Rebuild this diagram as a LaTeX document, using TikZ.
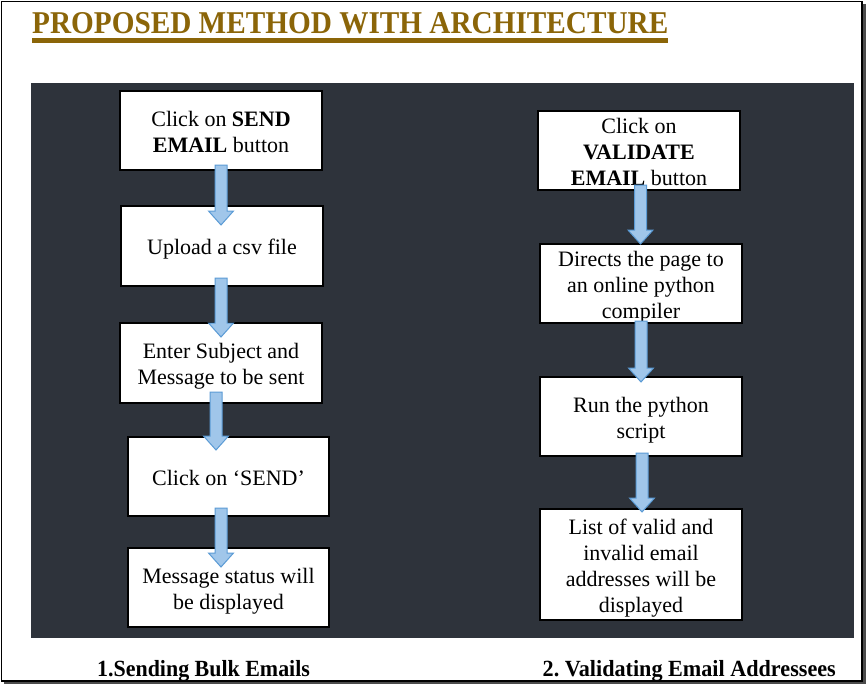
\documentclass[tikz,border=0pt]{standalone}
\usepackage{fontspec}
\setmainfont{Liberation Serif}
\usetikzlibrary{calc}
\definecolor{panel}{RGB}{46,51,59}
\definecolor{titlebrown}{RGB}{139,101,8}
\definecolor{arrowfill}{RGB}{160,198,234}
\definecolor{arrowedge}{RGB}{91,155,213}
\tikzset{
  box/.style={draw=black, line width=1.5pt, fill=white, inner sep=0pt,
    font=\fontsize{22}{26}\selectfont},
  barrowst/.style={fill=arrowfill, draw=arrowedge, line width=1pt, line join=miter},
}
\newcommand\boxtext[1]{\raisebox{-8.5pt}[0pt][0pt]{\begin{tabular}{@{}c@{}}#1\end{tabular}}}
\newcommand\blockarrow[2]{%
  \path[barrowst] let \p1=(#1), \p2=(#2) in
    (\x1-6pt,\y1) -- (\x1+6pt,\y1) -- (\x1+6pt,\y2+14pt) -- (\x1+12.5pt,\y2+14pt)
    -- (\x1,\y2) -- (\x1-12.5pt,\y2+14pt) -- (\x1-6pt,\y2+14pt) -- cycle;}
\begin{document}
\begin{tikzpicture}[x=1pt,y=-1pt]
\useasboundingbox (0,0) rectangle (867,685);
% frame
\fill[white] (0,0) rectangle (867,685);
\fill[black!70] (4,4) rectangle (866,684);
\draw[fill=white, line width=1.2pt] (1.5,1.5) rectangle (862,681);
% title
\node[anchor=south west, inner sep=0pt, text=titlebrown] (title) at (32,34)
  {\resizebox{636pt}{21pt}{\bfseries PROPOSED METHOD WITH ARCHITECTURE}};
\fill[titlebrown] (32,38) rectangle (668,43);
% panel
\fill[panel] (31,83) rectangle (854,638);
% left column
\node[box, minimum width=202pt, minimum height=79pt] (b1) at (221,130.5) {\boxtext{Click on \textbf{SEND}\\\textbf{EMAIL} button}};
\node[box, minimum width=202pt, minimum height=80pt] (b2) at (222,246) {\boxtext{Upload a csv file}};
\node[box, minimum width=202pt, minimum height=80pt] (b3) at (221,363) {\boxtext{Enter Subject and\\Message to be sent}};
\node[box, minimum width=201pt, minimum height=79pt] (b4) at (228.5,476.5) {\boxtext{Click on ‘SEND’}};
\node[box, minimum width=201pt, minimum height=79pt] (b5) at (228.5,587.5) {\boxtext{Message status will\\be displayed}};
% right column
\node[box, minimum width=202pt, minimum height=79pt] (r1) at (639,150.5) {\boxtext{Click on\\\textbf{VALIDATE}\\\textbf{EMAIL} button}};
\node[box, minimum width=202pt, minimum height=79pt] (r2) at (641,283.5) {\boxtext{Directs the page to\\an online python\\compiler}};
\node[box, minimum width=202pt, minimum height=79pt] (r3) at (641,416.5) {\boxtext{Run the python\\script}};
\node[box, minimum width=202pt, minimum height=111pt] (r4) at (641,564.5) {\boxtext{List of valid and\\invalid email\\addresses will be\\displayed}};
% arrow end points
\coordinate (l1s) at (221,165); \coordinate (l1e) at (221,225);
\coordinate (l2s) at (221,278); \coordinate (l2e) at (221,337);
\coordinate (l3s) at (216,392); \coordinate (l3e) at (216,450);
\coordinate (l4s) at (221,508); \coordinate (l4e) at (221,567);
\coordinate (q1s) at (640.5,185); \coordinate (q1e) at (640.5,244);
\coordinate (q2s) at (641,321); \coordinate (q2e) at (641,382);
\coordinate (q3s) at (642,453); \coordinate (q3e) at (642,512);
\blockarrow{l1s}{l1e}
\blockarrow{l2s}{l2e}
\blockarrow{l3s}{l3e}
\blockarrow{l4s}{l4e}
\blockarrow{q1s}{q1e}
\blockarrow{q2s}{q2e}
\blockarrow{q3s}{q3e}
% captions
\node[anchor=base west, inner sep=0pt] (cap1) at (97,676)
  {\fontsize{22.5}{26}\selectfont\scalebox{0.975}[1.03]{\bfseries 1.Sending Bulk Emails}};
\node[anchor=base east, inner sep=0pt] (cap2) at (836,676)
  {\fontsize{22.5}{26}\selectfont\scalebox{0.985}[1.03]{\bfseries 2.~Validating Email Addressees}};
\end{tikzpicture}
\end{document}
